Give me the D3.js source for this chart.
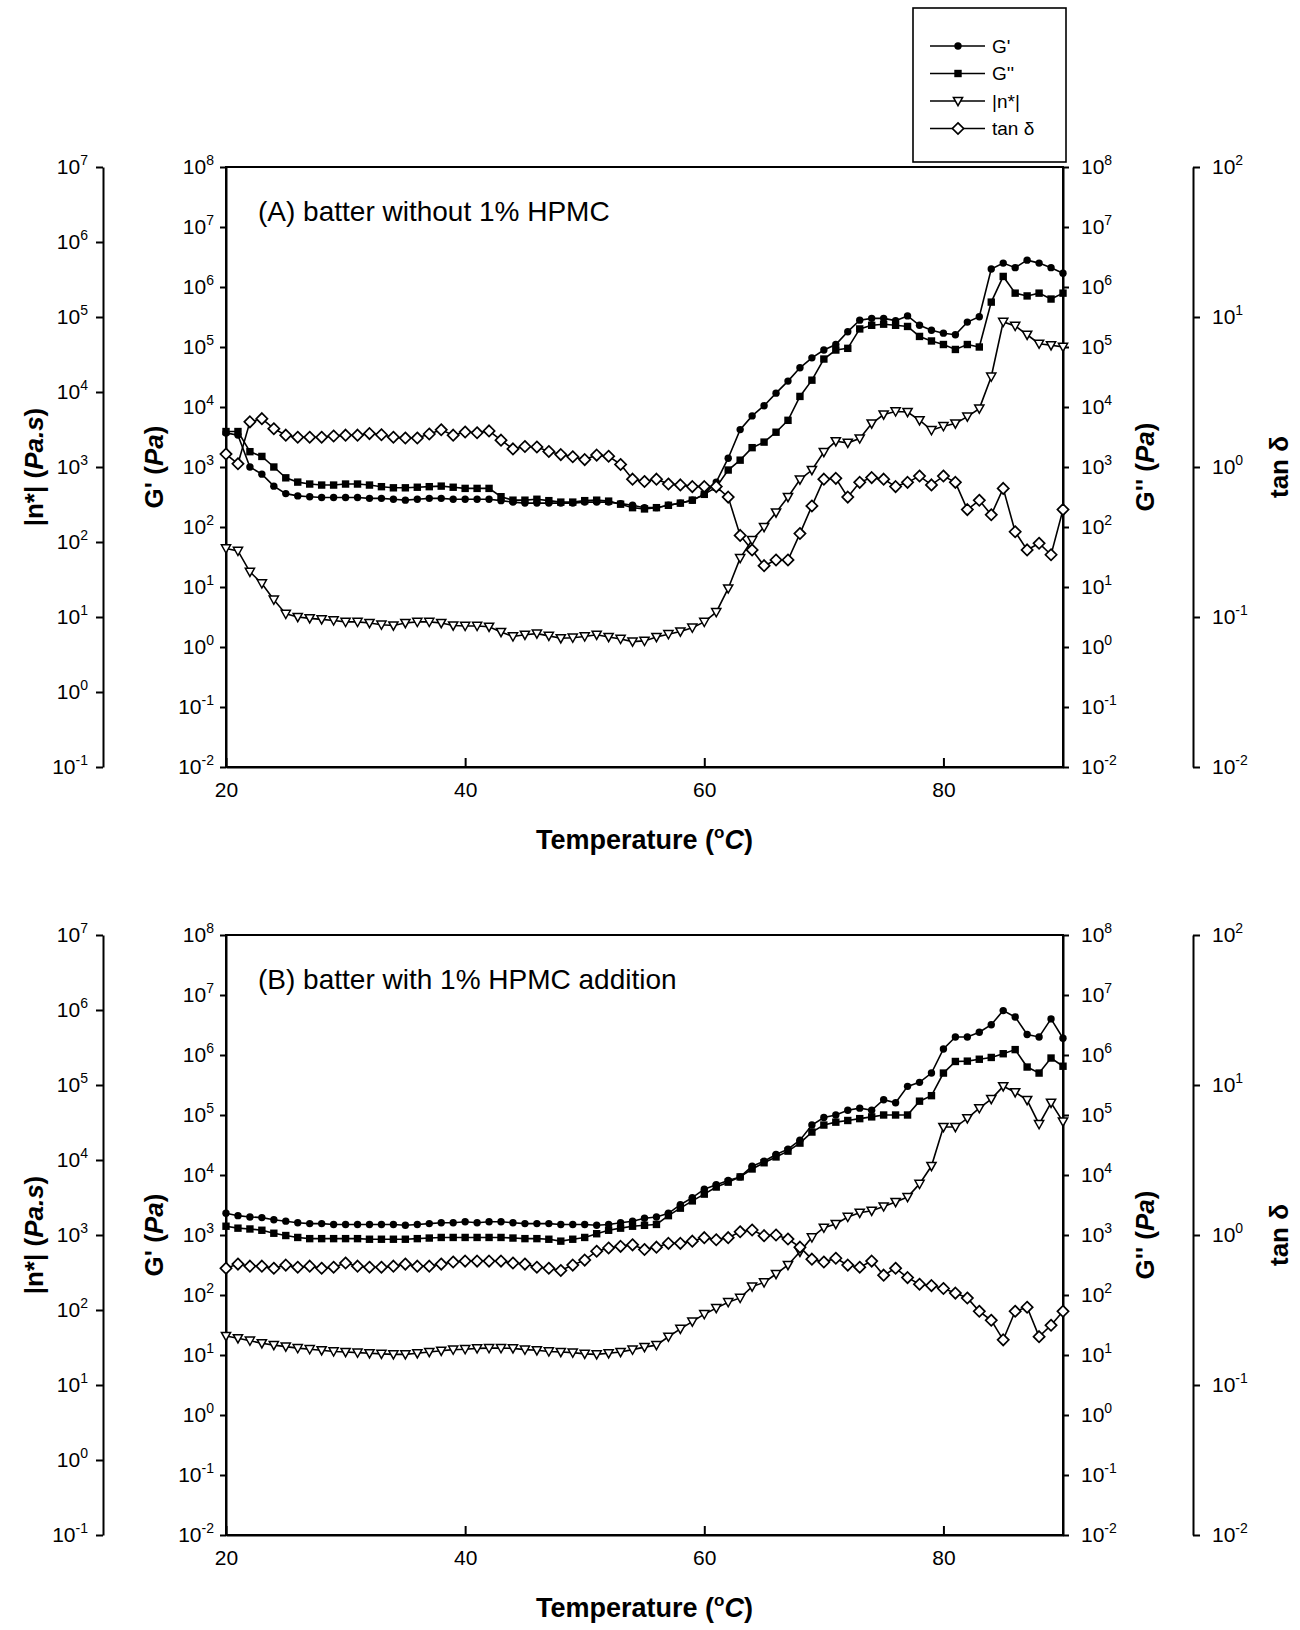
<!DOCTYPE html>
<html>
<head>
<meta charset="UTF-8">
<title>Batter rheology vs temperature</title>
<script src="https://cdn.jsdelivr.net/npm/d3@7"></script>
<style>
body { margin: 0; background: #fff; }
svg text { font-family: "Liberation Sans", Arial, sans-serif; fill: #000; }
.axis path, .axis line { stroke: #000; stroke-width: 2; }
</style>
</head>
<body>
<svg id="chart" width="1300" height="1630"></svg>
<script>
// temperature grid (deg C)
const temps = [20,21,22,23,24,25,26,27,28,29,30,31,32,33,34,35,36,37,38,39,
  40,41,42,43,44,45,46,47,48,49,50,51,52,53,54,55,56,57,58,59,
  60,61,62,63,64,65,66,67,68,69,70,71,72,73,74,75,76,77,78,79,
  80,81,82,83,84,85,86,87,88,89,90];

// (A) batter without HPMC
const gPrimeA = [3.7e3,3.4e3,1.0e3,7.6e2,4.8e2,3.6e2,3.3e2,3.2e2,3.1e2,3.1e2,
  3.1e2,3.1e2,3.0e2,3.0e2,2.9e2,2.8e2,2.9e2,3.0e2,3.0e2,2.9e2,
  2.9e2,2.9e2,2.9e2,2.75e2,2.6e2,2.5e2,2.5e2,2.5e2,2.5e2,2.5e2,
  2.6e2,2.6e2,2.6e2,2.45e2,2.3e2,2.1e2,2.1e2,2.3e2,2.5e2,2.8e2,
  3.5e2,5.6e2,1.4e3,4.2e3,7.1e3,1.05e4,1.7e4,2.7e4,4.5e4,6.6e4,
  8.9e4,1.1e5,1.8e5,2.8e5,3.0e5,3.0e5,2.75e5,3.3e5,2.3e5,1.9e5,
  1.7e5,1.6e5,2.6e5,3.2e5,2.0e6,2.5e6,2.1e6,2.8e6,2.5e6,2.1e6,1.7e6];
const gDoubleA = [3.9e3,3.9e3,1.8e3,1.5e3,1.0e3,6.6e2,5.6e2,5.2e2,5.0e2,5.0e2,
  5.2e2,5.2e2,5.0e2,4.7e2,4.5e2,4.5e2,4.6e2,4.7e2,4.8e2,4.6e2,
  4.4e2,4.4e2,4.4e2,3.2e2,2.8e2,2.8e2,2.9e2,2.75e2,2.6e2,2.6e2,
  2.75e2,2.8e2,2.7e2,2.4e2,2.1e2,2.0e2,2.1e2,2.3e2,2.5e2,2.8e2,
  3.5e2,4.6e2,8.9e2,1.3e3,2.1e3,2.6e3,3.8e3,6.0e3,1.5e4,2.8e4,
  6.3e4,8.9e4,9.5e4,2.0e5,2.3e5,2.4e5,2.3e5,2.2e5,1.5e5,1.26e5,
  1.1e5,9.1e4,1.1e5,1.0e5,5.6e5,1.5e6,7.9e5,7.1e5,7.9e5,6.3e5,7.9e5];
const etaA = [82,76,40,28,17,11,10,9.6,9.3,9.0,
  8.6,8.6,8.3,7.9,7.7,8.3,8.6,8.6,8.3,7.7,
  7.6,7.6,7.4,6.3,5.5,5.8,6.0,5.6,5.2,5.3,
  5.5,5.8,5.4,5.1,4.7,4.8,5.4,5.9,6.4,7.2,
  8.6,11.6,24,61,106,158,247,398,679,912,
  1580,2200,2100,2400,3800,5000,5500,5400,4200,3100,
  3500,3800,4700,6000,16000,86000,76000,58000,44000,42000,40000];
const tanA = [1.22,1.05,2.0,2.1,1.8,1.63,1.58,1.58,1.58,1.61,
  1.63,1.63,1.67,1.64,1.58,1.56,1.56,1.66,1.77,1.63,
  1.71,1.69,1.74,1.51,1.32,1.37,1.36,1.27,1.21,1.17,
  1.12,1.20,1.18,1.04,0.83,0.80,0.83,0.77,0.76,0.74,
  0.74,0.74,0.63,0.35,0.28,0.22,0.24,0.24,0.36,0.55,
  0.83,0.84,0.63,0.79,0.85,0.83,0.74,0.79,0.87,0.76,
  0.87,0.79,0.52,0.60,0.48,0.72,0.37,0.28,0.31,0.26,0.52];

// (B) batter with 1% HPMC
const gPrimeB = [2.3e3,2.1e3,2.0e3,1.95e3,1.8e3,1.7e3,1.6e3,1.55e3,1.55e3,1.5e3,
  1.5e3,1.5e3,1.5e3,1.5e3,1.5e3,1.45e3,1.5e3,1.55e3,1.6e3,1.6e3,
  1.66e3,1.6e3,1.66e3,1.66e3,1.6e3,1.55e3,1.55e3,1.55e3,1.5e3,1.5e3,
  1.5e3,1.45e3,1.5e3,1.6e3,1.7e3,1.9e3,2.0e3,2.3e3,3.2e3,4.2e3,
  5.8e3,6.9e3,8.1e3,9.3e3,1.4e4,1.7e4,2.2e4,2.7e4,3.8e4,6.8e4,
  9.1e4,1.0e5,1.2e5,1.3e5,1.2e5,1.8e5,1.6e5,3.0e5,3.5e5,5.0e5,
  1.26e6,2.0e6,2.0e6,2.4e6,3.2e6,5.5e6,4.3e6,2.2e6,2.0e6,4.0e6,1.9e6];
const gDoubleB = [1.4e3,1.3e3,1.26e3,1.2e3,1.07e3,9.8e2,9.1e2,8.7e2,8.7e2,8.7e2,
  8.7e2,8.7e2,8.5e2,8.5e2,8.5e2,8.5e2,8.7e2,8.9e2,9.1e2,9.1e2,
  9.1e2,9.1e2,9.1e2,9.1e2,8.9e2,8.7e2,8.7e2,8.5e2,7.9e2,8.5e2,
  9.1e2,1.05e3,1.2e3,1.3e3,1.4e3,1.45e3,1.5e3,2.1e3,2.8e3,3.7e3,
  4.8e3,6.3e3,7.6e3,9.3e3,1.26e4,1.6e4,2.0e4,2.5e4,3.4e4,5.2e4,
  6.8e4,7.6e4,8.1e4,8.7e4,9.3e4,1.0e5,1.0e5,1.0e5,1.7e5,2.1e5,
  5.0e5,7.8e5,7.9e5,8.5e5,9.1e5,1.05e6,1.23e6,6.3e5,5.0e5,8.9e5,6.5e5];
const etaB = [45,42,39,36,34,32.5,31,30,29,28,
  27.5,27,26.5,26,25.6,25.6,26.5,27.5,28.6,29.6,
  30,30.8,31,31,30.8,29.6,29,28,27.5,27,
  26,25.6,26.5,27.5,29.6,32,34,44,56,70,
  88,106,127,145,205,233,302,398,597,929,
  1250,1400,1740,1980,2100,2400,2750,3200,4800,8300,
  27500,27500,36000,49000,65000,96000,80000,63000,30000,58000,32500];
const tanB = [0.60,0.64,0.62,0.62,0.60,0.63,0.61,0.62,0.60,0.61,
  0.65,0.62,0.61,0.61,0.62,0.64,0.62,0.62,0.64,0.66,
  0.67,0.67,0.67,0.67,0.65,0.64,0.61,0.60,0.58,0.63,
  0.68,0.78,0.82,0.84,0.86,0.80,0.83,0.88,0.88,0.91,
  0.96,0.93,0.96,1.05,1.08,0.99,1.0,0.94,0.83,0.69,
  0.66,0.70,0.63,0.61,0.67,0.54,0.60,0.52,0.47,0.46,
  0.44,0.41,0.38,0.31,0.27,0.20,0.31,0.33,0.21,0.25,0.31];

// tick values
const tempTicks = [20, 40, 60, 80];
const modTicks = [1e-2,1e-1,1e0,1e1,1e2,1e3,1e4,1e5,1e6,1e7,1e8];
const etaTicks = [1e-1,1e0,1e1,1e2,1e3,1e4,1e5,1e6,1e7];
const tanTicks = [1e-2,1e-1,1e0,1e1,1e2];

const panels = [
  {top: 167, title: "(A) batter without 1% HPMC", gp: gPrimeA, gpp: gDoubleA, eta: etaA, tan: tanA},
  {top: 935, title: "(B) batter with 1% HPMC addition", gp: gPrimeB, gpp: gDoubleB, eta: etaB, tan: tanB}
];

const left = 226, right = 1063, plotH = 600;
const etaX = 103, tanX = 1193;

const svg = d3.select("#chart");
svg.append("rect").attr("width", 1300).attr("height", 1630).attr("fill", "#fff");

const x = d3.scaleLinear().domain([20, 90]).range([left, right]);

// "10" with a raised exponent
function powText(sel) {
  sel.each(function(d) {
    const t = d3.select(this);
    const e = Math.round(Math.log10(d));
    t.text(null);
    t.append("tspan").text("10");
    t.append("tspan").attr("dy", -9).attr("font-size", 14).text(e);
  });
}

const markers = {
  circle: g => g.append("circle").attr("r", 3.7).attr("fill", "#000"),
  square: g => g.append("rect").attr("x", -3.7).attr("y", -3.7).attr("width", 7.4).attr("height", 7.4).attr("fill", "#000"),
  tri: g => g.append("path").attr("d", "M-4.6,-3.6L4.6,-3.6L0,4.6Z").attr("fill", "#fff").attr("stroke", "#000").attr("stroke-width", 1.5),
  diamond: g => g.append("path").attr("d", "M0,-5.6L5.6,0L0,5.6L-5.6,0Z").attr("fill", "#fff").attr("stroke", "#000").attr("stroke-width", 1.7)
};

function drawSeries(g, vals, y, kind) {
  const pts = temps.map((t, i) => [x(t), y(vals[i])]);
  g.append("path")
    .attr("d", d3.line()(pts))
    .attr("fill", "none")
    .attr("stroke", "#000")
    .attr("stroke-width", 1.6);
  g.selectAll(null)
    .data(pts)
    .enter().append("g")
    .attr("transform", d => `translate(${d[0]},${d[1]})`)
    .each(function() { markers[kind](d3.select(this)); });
}

panels.forEach(p => {
  const top = p.top, bottom = p.top + plotH;
  const yMod = d3.scaleLog().domain([1e-2, 1e8]).range([bottom, top]);
  const yEta = d3.scaleLog().domain([1e-1, 1e7]).range([bottom, top]);
  const yTan = d3.scaleLog().domain([1e-2, 1e2]).range([bottom, top]);
  const g = svg.append("g");

  // frame
  g.append("rect")
    .attr("x", left).attr("y", top)
    .attr("width", right - left).attr("height", plotH)
    .attr("fill", "none").attr("stroke", "#000").attr("stroke-width", 2);

  // G' axis (left)
  g.append("g").attr("class", "axis")
    .attr("transform", `translate(${left},0)`)
    .call(d3.axisLeft(yMod).tickValues(modTicks).tickSize(6).tickSizeOuter(0).tickPadding(6))
    .call(a => a.selectAll(".tick text").attr("font-size", 21).call(powText));

  // G'' axis (right)
  g.append("g").attr("class", "axis")
    .attr("transform", `translate(${right},0)`)
    .call(d3.axisRight(yMod).tickValues(modTicks).tickSize(6).tickSizeOuter(0).tickPadding(12))
    .call(a => a.selectAll(".tick text").attr("font-size", 21).call(powText));

  // |n*| axis (far left)
  g.append("g").attr("class", "axis")
    .attr("transform", `translate(${etaX},0)`)
    .call(d3.axisLeft(yEta).tickValues(etaTicks).tickSize(7).tickSizeOuter(0).tickPadding(8))
    .call(a => a.selectAll(".tick text").attr("font-size", 21).call(powText));

  // tan delta axis (far right)
  g.append("g").attr("class", "axis")
    .attr("transform", `translate(${tanX},0)`)
    .call(d3.axisRight(yTan).tickValues(tanTicks).tickSize(7).tickSizeOuter(0).tickPadding(12))
    .call(a => a.selectAll(".tick text").attr("font-size", 21).call(powText));

  // temperature axis
  g.append("g").attr("class", "axis")
    .attr("transform", `translate(0,${bottom})`)
    .call(d3.axisBottom(x).tickValues(tempTicks).tickSize(-9).tickSizeOuter(0).tickPadding(15))
    .call(a => a.selectAll(".tick text").attr("font-size", 21));

  // axis titles
  const xt = g.append("text")
    .attr("x", (left + right) / 2).attr("y", bottom + 82)
    .attr("text-anchor", "middle").attr("font-size", 27).attr("font-weight", "bold");
  xt.append("tspan").text("Temperature (");
  xt.append("tspan").attr("dy", -11).attr("font-size", 17).text("o");
  xt.append("tspan").attr("dy", 11).attr("font-style", "italic").text("C");
  xt.append("tspan").text(")");

  const mid = top + plotH / 2;
  function yTitle(xPos, parts) {
    const t = g.append("text")
      .attr("transform", `translate(${xPos},${mid}) rotate(-90)`)
      .attr("text-anchor", "middle").attr("dominant-baseline", "central")
      .attr("font-size", 26).attr("font-weight", "bold");
    parts.forEach(([s, it]) => t.append("tspan").attr("font-style", it ? "italic" : "normal").text(s));
  }
  yTitle(34, [["|n*| (", false], ["Pa.s", true], [")", false]]);
  yTitle(154, [["G' (", false], ["Pa", true], [")", false]]);
  yTitle(1145, [["G'' (", false], ["Pa", true], [")", false]]);
  yTitle(1279, [["tan \u03b4", false]]);

  // panel caption
  g.append("text")
    .attr("x", 258).attr("y", top + 54)
    .attr("font-size", 28)
    .text(p.title);

  // data
  drawSeries(g, p.gp, yMod, "circle");
  drawSeries(g, p.gpp, yMod, "square");
  drawSeries(g, p.eta, yEta, "tri");
  drawSeries(g, p.tan, yTan, "diamond");
});

// legend
const legendItems = [
  {label: "G'", kind: "circle"},
  {label: "G''", kind: "square"},
  {label: "|n*|", kind: "tri"},
  {label: "tan \u03b4", kind: "diamond"}
];
const lg = svg.append("g");
lg.append("rect")
  .attr("x", 913).attr("y", 8).attr("width", 153).attr("height", 154)
  .attr("fill", "#fff").attr("stroke", "#000").attr("stroke-width", 1.6);
legendItems.forEach((d, i) => {
  const cy = 46 + i * 27.5;
  lg.append("line")
    .attr("x1", 930).attr("x2", 985).attr("y1", cy).attr("y2", cy)
    .attr("stroke", "#000").attr("stroke-width", 1.5);
  markers[d.kind](lg.append("g").attr("transform", `translate(958,${cy})`));
  lg.append("text")
    .attr("x", 992).attr("y", cy).attr("dy", "0.35em")
    .attr("font-size", 19).text(d.label);
});
</script>
</body>
</html>
